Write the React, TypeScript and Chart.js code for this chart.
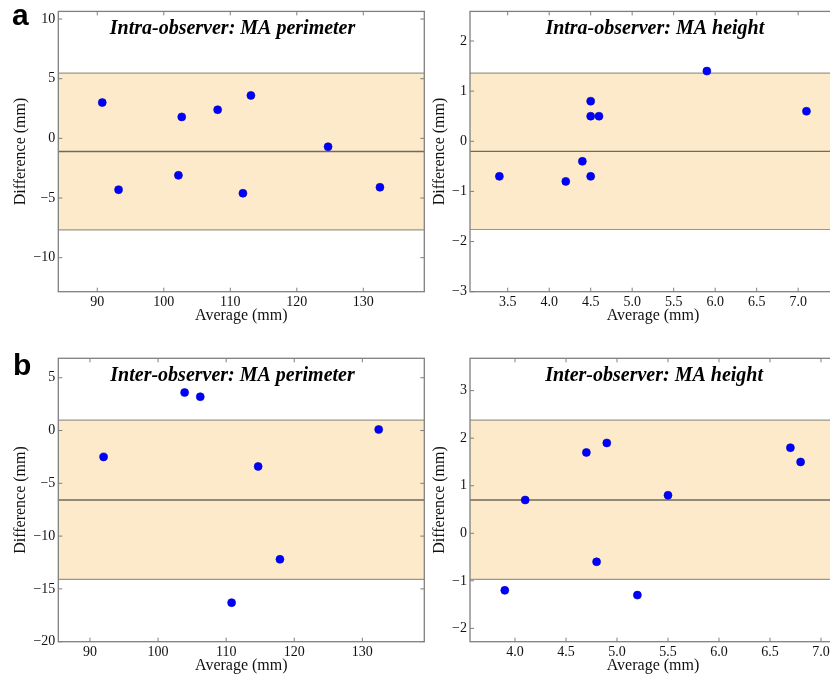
import React, { useEffect, useRef } from "react";
import { Chart, registerables } from "chart.js";

Chart.register(...registerables);

// ---- Data ----
// Panel a-left: Intra-observer MA perimeter
const intraPerimX = [90.75, 93.2, 102.7, 102.2, 108.1, 113.1, 111.9, 124.7, 132.5];
const intraPerimY = [3.0, -4.3, 1.8, -3.1, 2.4, 3.6, -4.6, -0.7, -4.1];
const intraPerimStats = [-1.1, 5.47, -7.67]; // mean, upper LoA, lower LoA

// Panel a-right: Intra-observer MA height
const intraHeightX = [3.4, 4.2, 4.4, 4.5, 4.5, 4.6, 4.5, 5.9, 7.1];
const intraHeightY = [-0.7, -0.8, -0.4, 0.8, 0.5, 0.5, -0.7, 1.4, 0.6];
const intraHeightStats = [-0.2, 1.36, -1.76];

// Panel b-left: Inter-observer MA perimeter
const interPerimX = [92.0, 103.9, 106.2, 114.7, 110.8, 117.9, 132.4];
const interPerimY = [-2.5, 3.6, 3.2, -3.4, -16.3, -12.2, 0.1];
const interPerimStats = [-6.58, 0.98, -14.1];

// Panel b-right: Inter-observer MA height
const interHeightX = [3.9, 4.1, 4.7, 4.9, 4.8, 5.2, 5.5, 6.7, 6.8];
const interHeightY = [-1.2, 0.7, 1.7, 1.9, -0.6, -1.3, 0.8, 1.8, 1.5];
const interHeightStats = [0.7, 2.38, -0.97];

// Tick labels
const perimXTicks = [90, 100, 110, 120, 130];
const heightXTicks = [3.5, 4.0, 4.5, 5.0, 5.5, 6.0, 6.5, 7.0];
const heightXTicksB = [4.0, 4.5, 5.0, 5.5, 6.0, 6.5, 7.0];
const intraPerimYTicks = [-10, -5, 0, 5, 10];
const intraHeightYTicks = [-3, -2, -1, 0, 1, 2];
const interPerimYTicks = [-20, -15, -10, -5, 0, 5];
const interHeightYTicks = [-2, -1, 0, 1, 2, 3];

const titles = [
  "Intra-observer: MA perimeter",
  "Intra-observer: MA height",
  "Inter-observer: MA perimeter",
  "Inter-observer: MA height",
];

const SERIF = "'Liberation Serif', 'Times New Roman', serif";

type PanelProps = {
  left: number; top: number; w: number; h: number;
  pad: { left: number; top: number; right: number; bottom: number };
  yAxisW: number; xAxisH: number;
  xMin: number; xMax: number; yMin: number; yMax: number;
  xTicks: number[]; yTicks: number[]; xDec: number;
  xs: number[]; ys: number[]; stats: number[];
  title: string; titleFrac: number;
};

function fmt(v: number, dec: number) {
  const s = Number(v).toFixed(dec);
  return s.replace("-", "\u2212");
}

function Panel(p: PanelProps) {
  const ref = useRef<HTMLCanvasElement | null>(null);
  useEffect(() => {
    const canvas = ref.current!;
    const pts = p.xs.map((x, i) => ({ x, y: p.ys[i] }));
    const [mean, upper, lower] = p.stats;
    const framePlugin = {
      id: "frame",
      afterDraw(chart: any) {
        const { ctx, chartArea } = chart;
        const { left, right, top, bottom } = chartArea;
        const xs = chart.scales.x;
        const ys = chart.scales.y;
        ctx.save();
        ctx.strokeStyle = "#7f7f7f";
        ctx.lineWidth = 1.3;
        ctx.strokeRect(left, top, right - left, bottom - top);
        ctx.lineWidth = 1;
        const tl = 4;
        ctx.beginPath();
        p.xTicks.forEach((v) => {
          const px = xs.getPixelForValue(v);
          ctx.moveTo(px, bottom);
          ctx.lineTo(px, bottom - tl);
          ctx.moveTo(px, top);
          ctx.lineTo(px, top + tl);
        });
        p.yTicks.forEach((v) => {
          const py = ys.getPixelForValue(v);
          ctx.moveTo(left, py);
          ctx.lineTo(left + tl, py);
          ctx.moveTo(right, py);
          ctx.lineTo(right - tl, py);
        });
        ctx.stroke();
        ctx.fillStyle = "#000";
        ctx.font = `italic bold 20px ${SERIF}`;
        ctx.textAlign = "center";
        ctx.textBaseline = "alphabetic";
        ctx.fillText(p.title, left + (right - left) * p.titleFrac, top + 22.4);
        ctx.restore();
      },
    };
    const chart = new Chart(canvas, {
      type: "scatter",
      data: {
        datasets: [
          {
            data: pts,
            pointRadius: 4,
            pointHoverRadius: 4,
            backgroundColor: "#0000ff",
            borderColor: "#0000b0",
            borderWidth: 0.6,
            showLine: false,
          },
          {
            data: [{ x: p.xMin, y: mean }, { x: p.xMax, y: mean }],
            showLine: true,
            pointRadius: 0,
            borderColor: "#6e6a5c",
            borderWidth: 1.3,
            fill: false,
          },
          {
            data: [{ x: p.xMin, y: lower }, { x: p.xMax, y: lower }],
            showLine: true,
            pointRadius: 0,
            borderColor: "#9a968c",
            borderWidth: 1.2,
            fill: false,
          },
          {
            data: [{ x: p.xMin, y: upper }, { x: p.xMax, y: upper }],
            showLine: true,
            pointRadius: 0,
            borderColor: "#9a968c",
            borderWidth: 1.2,
            backgroundColor: "#fdeacb",
            fill: "-1",
          },
        ],
      },
      options: {
        animation: false,
        responsive: false,
        maintainAspectRatio: false,
        devicePixelRatio: 1,
        layout: { padding: p.pad },
        plugins: {
          legend: { display: false },
          tooltip: { enabled: false },
          filler: { drawTime: "beforeDatasetsDraw" },
        } as any,
        scales: {
          x: {
            type: "linear",
            min: p.xMin,
            max: p.xMax,
            afterBuildTicks: (s: any) => {
              s.ticks = p.xTicks.map((v) => ({ value: v }));
            },
            afterFit: (s: any) => {
              s.height = p.xAxisH;
            },
            grid: { display: false, drawTicks: false, tickLength: 0 },
            border: { display: false },
            ticks: {
              font: { family: SERIF, size: 14 },
              color: "#111",
              padding: 2,
              maxRotation: 0,
              autoSkip: false,
              callback: (v: any) => fmt(v, p.xDec),
            },
            title: {
              display: true,
              text: "Average (mm)",
              font: { family: SERIF, size: 16 },
              color: "#111",
              padding: 0,
            },
          },
          y: {
            type: "linear",
            min: p.yMin,
            max: p.yMax,
            afterBuildTicks: (s: any) => {
              s.ticks = p.yTicks.map((v) => ({ value: v }));
            },
            afterFit: (s: any) => {
              s.width = p.yAxisW;
            },
            grid: { display: false, drawTicks: false, tickLength: 0 },
            border: { display: false },
            ticks: {
              font: { family: SERIF, size: 14 },
              color: "#111",
              padding: 3,
              autoSkip: false,
              callback: (v: any) => fmt(v, 0),
            },
            title: {
              display: true,
              text: "Difference (mm)",
              font: { family: SERIF, size: 16 },
              color: "#111",
              padding: 0,
            },
          },
        },
      } as any,
      plugins: [framePlugin],
    });
    return () => chart.destroy();
  }, []);
  return (
    <canvas
      ref={ref}
      width={p.w}
      height={p.h}
      style={{ position: "absolute", left: p.left, top: p.top, width: p.w, height: p.h }}
    />
  );
}

export default function App() {
  const labelStyle: React.CSSProperties = {
    position: "absolute",
    fontFamily: "'Liberation Sans', Arial, sans-serif",
    fontWeight: "bold",
    fontSize: 30,
    lineHeight: "30px",
    color: "#000",
  };
  return (
    <div
      style={{
        position: "absolute",
        left: 0,
        top: 0,
        width: 830,
        height: 677,
        overflow: "hidden",
        background: "#fff",
      }}
    >
      <Panel
        left={0} top={0} w={430} h={330}
        pad={{ left: 11, top: 8.3, right: 5.7, bottom: 4.9 }}
        yAxisW={47.3} xAxisH={33.4}
        xMin={84.14} xMax={139.17} yMin={-12.85} yMax={10.64}
        xTicks={perimXTicks} yTicks={intraPerimYTicks} xDec={0}
        xs={intraPerimX} ys={intraPerimY} stats={intraPerimStats}
        title={titles[0]} titleFrac={0.476}
      />
      <Panel
        left={426} top={0} w={420} h={330}
        pad={{ left: 4.4, top: 8.3, right: 10, bottom: 4.9 }}
        yAxisW={39.6} xAxisH={33.4}
        xMin={3.046} xMax={7.456} yMin={-3.0} yMax={2.59}
        xTicks={heightXTicks} yTicks={intraHeightYTicks} xDec={1}
        xs={intraHeightX} ys={intraHeightY} stats={intraHeightStats}
        title={titles[1]} titleFrac={0.505}
      />
      <Panel
        left={0} top={330} w={430} h={347}
        pad={{ left: 11, top: 28.3, right: 5.7, bottom: 1.9 }}
        yAxisW={47.3} xAxisH={33.4}
        xMin={85.35} xMax={139.1} yMin={-20} yMax={6.84}
        xTicks={perimXTicks} yTicks={interPerimYTicks} xDec={0}
        xs={interPerimX} ys={interPerimY} stats={interPerimStats}
        title={titles[2]} titleFrac={0.476}
      />
      <Panel
        left={426} top={330} w={420} h={347}
        pad={{ left: 4.4, top: 28.3, right: 10, bottom: 1.9 }}
        yAxisW={39.6} xAxisH={33.4}
        xMin={3.559} xMax={7.147} yMin={-2.28} yMax={3.68}
        xTicks={heightXTicksB} yTicks={interHeightYTicks} xDec={1}
        xs={interHeightX} ys={interHeightY} stats={interHeightStats}
        title={titles[3]} titleFrac={0.503}
      />
      <div style={{ ...labelStyle, left: 12, top: 0 }}>a</div>
      <div style={{ ...labelStyle, left: 13, top: 350 }}>b</div>
    </div>
  );
}
